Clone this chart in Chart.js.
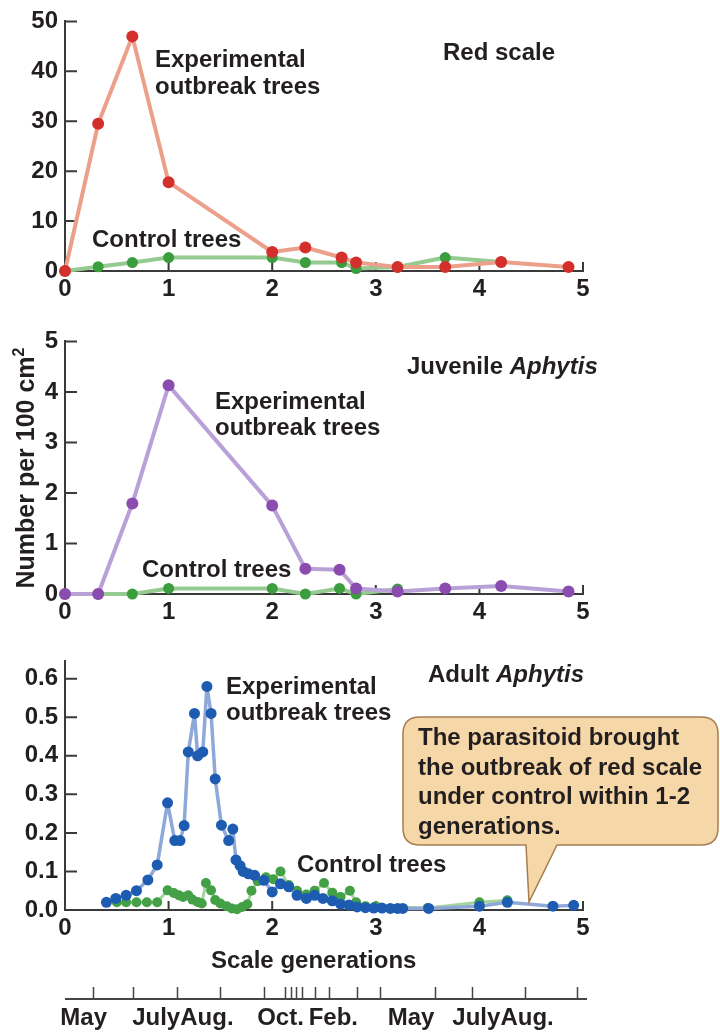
<!DOCTYPE html>
<html><head><meta charset="utf-8">
<script src="https://cdn.jsdelivr.net/npm/chart.js@4.4.0/dist/chart.umd.min.js"></script>
<style>
html,body{margin:0;padding:0;background:#fff;}
body{width:720px;height:1034px;position:relative;overflow:hidden;font-family:"Liberation Sans",Arial,sans-serif;font-weight:bold;color:#231f20;}
canvas{position:absolute;left:0;}
.t{position:absolute;font-size:24px;line-height:24px;white-space:nowrap;}
.ytitle{position:absolute;left:25px;top:468px;font-size:25px;line-height:25px;white-space:nowrap;transform:translate(-50%,-50%) rotate(-90deg);}
.ytitle sup{font-size:16px;line-height:0;vertical-align:10px;}
#callout{position:absolute;left:0;top:0;}
.ct{position:absolute;left:418px;top:722px;font-size:24px;line-height:29.5px;white-space:nowrap;}
</style></head><body>
<canvas id="c1" width="720" height="310" style="top:0px"></canvas>
<canvas id="c2" width="720" height="310" style="top:320px"></canvas>
<canvas id="c3" width="720" height="394" style="top:640px"></canvas>

<div class="t" style="left:443px;top:40px">Red scale</div>
<div class="t" style="left:155px;top:47px">Experimental</div>
<div class="t" style="left:155px;top:74px">outbreak trees</div>
<div class="t" style="left:92px;top:227px">Control trees</div>

<div class="t" style="left:407px;top:354px">Juvenile <i>Aphytis</i></div>
<div class="t" style="left:215px;top:389px">Experimental</div>
<div class="t" style="left:215px;top:415px">outbreak trees</div>
<div class="t" style="left:142px;top:557px">Control trees</div>

<div class="t" style="left:428px;top:662px">Adult <i>Aphytis</i></div>
<div class="t" style="left:226px;top:674px">Experimental</div>
<div class="t" style="left:226px;top:700px">outbreak trees</div>
<div class="t" style="left:297px;top:852px">Control trees</div>
<div class="t" style="left:211px;top:948px">Scale generations</div>

<div class="ytitle">Number per 100 cm<sup>2</sup></div>

<svg id="callout" width="720" height="1034" viewBox="0 0 720 1034">
<path d="M420,717 H701 Q718,717 718,734 V828 Q718,845 701,845 H557 L529,902 L526,845 H420 Q403,845 403,828 V734 Q403,717 420,717 Z" fill="#f6d8a8" stroke="#a47e50" stroke-width="1.5"/>
</svg>
<div class="ct">The parasitoid brought<br>the outbreak of red scale<br>under control within 1-2<br>generations.</div>

<script>
// ---------- DATA ----------
const genTicks = [0, 1, 2, 3, 4, 5];

// Red scale (number per 100 cm2)
const rsExpX = [0, 0.32, 0.65, 1.0, 2.0, 2.32, 2.67, 2.81, 3.21, 3.67, 4.21, 4.86];
const rsExpY = [0, 29.5, 47, 17.8, 3.8, 4.7, 2.7, 1.7, 0.8, 0.8, 1.8, 0.8];
const rsCtlX = [0, 0.32, 0.65, 1.0, 2.0, 2.32, 2.67, 2.81, 3.21, 3.67, 4.21];
const rsCtlY = [0, 0.85, 1.7, 2.7, 2.7, 1.7, 1.7, 0.5, 0.8, 2.7, 1.8];
const rsTicks = [0, 10, 20, 30, 40, 50];

// Juvenile Aphytis
const juvExpX = [0, 0.32, 0.65, 1.0, 2.0, 2.32, 2.65, 2.81, 3.21, 3.67, 4.21, 4.86];
const juvExpY = [0, 0, 1.79, 4.13, 1.75, 0.5, 0.48, 0.11, 0.05, 0.11, 0.16, 0.05];
const juvCtlX = [0, 0.32, 0.65, 1.0, 2.0, 2.32, 2.65, 2.81, 3.21];
const juvCtlY = [0, 0, 0, 0.11, 0.11, 0, 0.11, 0, 0.1];
const juvTicks = [0, 1, 2, 3, 4, 5];

// Adult Aphytis
const adExpX = [0.40,0.49,0.59,0.69,0.80,0.89,0.99,1.06,1.11,1.15,1.19,1.25,1.28,1.33,1.37,1.41,1.45,1.51,1.58,1.62,1.65,1.69,1.72,1.77,1.83,1.92,2.00,2.08,2.16,2.24,2.33,2.41,2.49,2.58,2.66,2.74,2.82,2.90,2.98,3.06,3.14,3.21,3.26,3.51,4.00,4.27,4.71,4.91];
const adExpY = [0.02,0.03,0.038,0.05,0.078,0.117,0.278,0.18,0.18,0.219,0.41,0.51,0.40,0.41,0.58,0.51,0.34,0.22,0.18,0.21,0.13,0.115,0.10,0.094,0.09,0.077,0.047,0.068,0.06,0.038,0.03,0.038,0.03,0.024,0.015,0.013,0.008,0.006,0.005,0.005,0.004,0.004,0.004,0.004,0.01,0.02,0.01,0.012];
const adCtlX = [0.50,0.59,0.69,0.79,0.89,0.99,1.05,1.10,1.14,1.19,1.23,1.28,1.32,1.36,1.41,1.45,1.50,1.56,1.61,1.66,1.71,1.76,1.80,1.86,1.94,2.01,2.08,2.16,2.24,2.33,2.41,2.50,2.58,2.66,2.75,2.81,2.90,3.00,3.50,4.00,4.27];
const adCtlY = [0.02,0.02,0.02,0.02,0.02,0.051,0.044,0.038,0.034,0.038,0.027,0.021,0.017,0.07,0.051,0.026,0.017,0.01,0.004,0.002,0.008,0.015,0.05,0.075,0.085,0.08,0.10,0.065,0.05,0.04,0.05,0.07,0.045,0.034,0.05,0.02,0.01,0.01,0.005,0.02,0.025];
const adTicks = [0, 0.1, 0.2, 0.3, 0.4, 0.5, 0.6];

// Calendar axis below (positions in scale generations)
const monthTickGen = [0.27,0.66,1.08,1.50,1.92,2.12,2.18,2.23,2.29,2.41,2.55,2.82,3.04,3.57,3.93,4.44,4.94];
const monthLabels = ["May","July","Aug.","Oct.","Feb.","May","July","Aug."];
const monthLabelGen = [0.18,0.88,1.37,2.08,2.59,3.34,3.97,4.46];

// ---------- RENDER ----------
const FAM = '"Liberation Sans", Arial, sans-serif';
const TXT = '#231f20';
const AX = '#3a3a3a';
const zip = (xs, ys) => xs.map((x, i) => ({x, y: ys[i]}));

const decor = {
  id: 'decor',
  beforeDatasetsDraw(chart) {
    const ctx = chart.ctx, xs = chart.scales.x, ys = chart.scales.y, a = chart.chartArea;
    ctx.save();
    ctx.strokeStyle = AX; ctx.lineWidth = 2;
    ctx.beginPath();
    xs.ticks.forEach(t => { if (t.value === 0) return; const p = xs.getPixelForValue(t.value); ctx.moveTo(p, a.bottom); ctx.lineTo(p, a.bottom - 9); });
    ys.ticks.forEach(t => { if (t.value === 0) return; const p = ys.getPixelForValue(t.value); ctx.moveTo(a.left, p); ctx.lineTo(a.left + 12, p); });
    ctx.stroke();
    ctx.restore();
  },
  afterDraw(chart, args, opts) {
    if (!opts.months) return;
    const ctx = chart.ctx, xs = chart.scales.x;
    const yLine = 359;
    ctx.save();
    ctx.strokeStyle = '#444'; ctx.lineWidth = 2;
    ctx.beginPath();
    ctx.moveTo(xs.getPixelForValue(0), yLine);
    ctx.lineTo(xs.getPixelForValue(5) + 4, yLine);
    ctx.stroke();
    ctx.lineWidth = 1.5;
    ctx.beginPath();
    monthTickGen.forEach(g => { const p = Math.round(xs.getPixelForValue(g)) + 0.5; ctx.moveTo(p, yLine); ctx.lineTo(p, yLine - 12); });
    ctx.stroke();
    ctx.fillStyle = TXT;
    ctx.font = 'bold 24px ' + FAM;
    ctx.textAlign = 'center'; ctx.textBaseline = 'alphabetic';
    monthLabels.forEach((m, i) => ctx.fillText(m, xs.getPixelForValue(monthLabelGen[i]), 385));
    ctx.restore();
  }
};

function ds(data, line, pt, r, w) {
  return {data, borderColor: line, backgroundColor: pt, pointBackgroundColor: pt, pointBorderWidth: 0,
    pointRadius: r, pointHoverRadius: r, borderWidth: w, tension: 0, clip: false, showLine: true,
    borderJoinStyle: 'round', borderCapStyle: 'round'};
}

function makeChart(id, datasets, yMax, yTicks, yFmt, padTop, xHeight, months) {
  const font = {family: FAM, size: 24, weight: 'bold'};
  return new Chart(document.getElementById(id), {
    type: 'line',
    data: {datasets},
    plugins: [decor],
    options: {
      responsive: false, animation: false, devicePixelRatio: 1,
      layout: {padding: {top: padTop, right: 137, left: 0, bottom: 0}},
      plugins: {legend: {display: false}, tooltip: {enabled: false}, decor: {months}},
      scales: {
        x: {type: 'linear', min: 0, max: 5,
          afterBuildTicks(s) { s.ticks = genTicks.map(v => ({value: v})); },
          afterFit(s) { s.height = xHeight; },
          grid: {display: false, drawTicks: false},
          border: {display: true, color: AX, width: 2},
          ticks: {font, color: TXT, padding: 4, maxRotation: 0, autoSkip: false}},
        y: {type: 'linear', min: 0, max: yMax,
          afterBuildTicks(s) { s.ticks = yTicks.map(v => ({value: v})); },
          afterFit(s) { s.width = 65; },
          grid: {display: false, drawTicks: false},
          border: {display: true, color: AX, width: 2},
          ticks: {font, color: TXT, padding: 7, autoSkip: false, callback: yFmt}}
      }
    }
  });
}

makeChart('c1', [
  ds(zip(rsExpX, rsExpY), '#eca08c', '#d3302b', 6, 4),
  ds(zip(rsCtlX, rsCtlY), '#95ca91', '#3c9d3f', 5.5, 4)
], 50, rsTicks, v => String(v), 17, 39, false);

makeChart('c2', [
  ds(zip(juvExpX, juvExpY), '#b9a1d8', '#8a4cae', 6, 4),
  ds(zip(juvCtlX, juvCtlY), '#95ca91', '#3c9d3f', 5.5, 4)
], 5, juvTicks, v => String(v), 18, 36, false);

makeChart('c3', [
  ds(zip(adExpX, adExpY), '#8ea8d8', '#1d5cb0', 5.5, 3.5),
  ds(zip(adCtlX, adCtlY), '#a6d4a0', '#44a046', 5, 3)
], 0.645, adTicks, v => v.toFixed(1), 17, 124, true);
</script>
</body></html>
